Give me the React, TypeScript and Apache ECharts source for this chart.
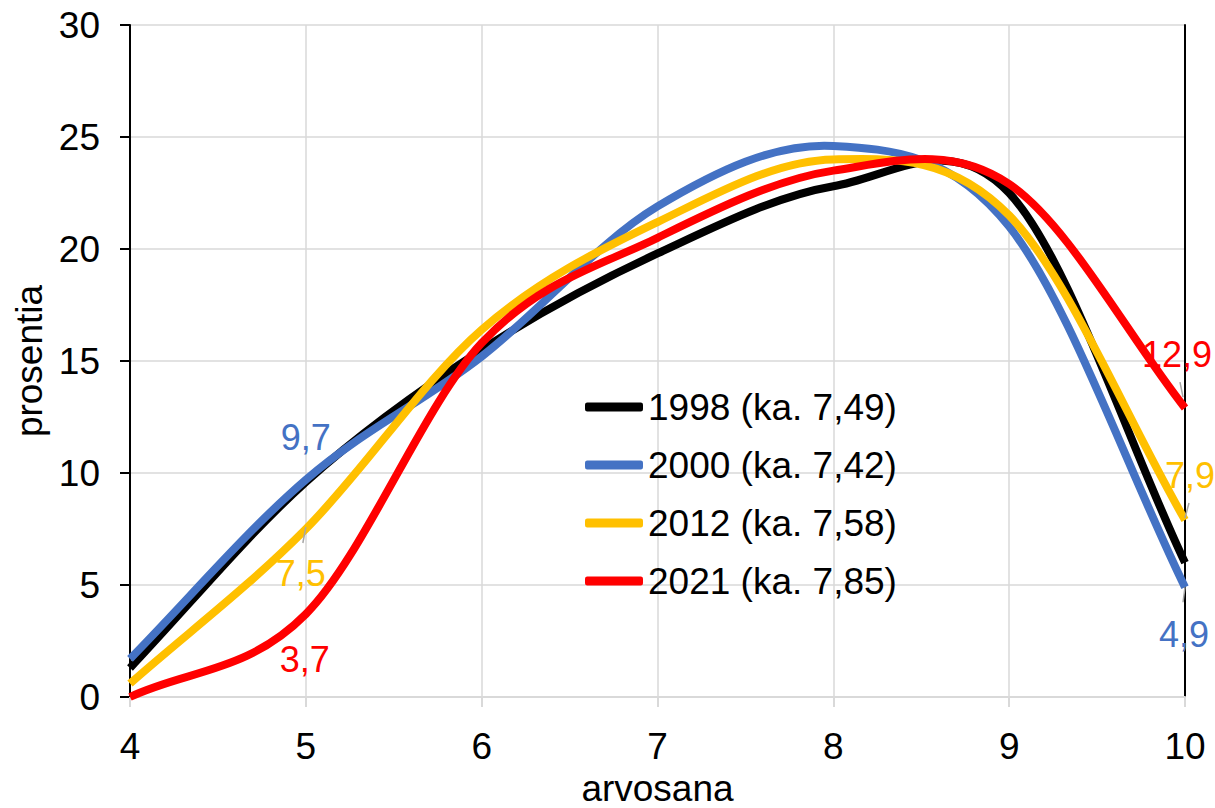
import React, { useEffect, useRef } from "react";
import * as echarts from "echarts";

const grades = [4, 5, 6, 7, 8, 9, 10];
const s1998 = [1.3, 9.6, 15.5, 19.8, 22.8, 22.5, 6.0];
const s2000 = [1.7, 9.7, 15.2, 21.9, 24.6, 21.0, 4.9];
const s2012 = [0.6, 7.5, 16.4, 21.2, 24.0, 21.5, 7.9];
const s2021 = [0.0, 3.7, 15.8, 20.5, 23.5, 22.9, 12.9];
const seriesNames = ["1998 (ka. 7,49)", "2000 (ka. 7,42)", "2012 (ka. 7,58)", "2021 (ka. 7,85)"];
const colors = ["#000000", "#4472C4", "#FFC000", "#FF0000"];

// labelled points: series index -> point index -> [label dx, label dy, leader x1, y1, x2, y2] (offsets in px)
const labelSpec: Record<number, Record<number, number[]>> = {
  1: { 1: [0, -42], 6: [-1, 47, 0, 0, -2, 15] },
  2: { 1: [-5, 44, 0, -2, -3, 14], 6: [5, -45, 4, -17, 0, -2] },
  3: { 1: [-1, 45], 6: [-8, -54, -5, -26, -2, -11] },
};

const FONT = '"Liberation Sans", Arial, sans-serif';
const TENSION = 1 / 6;

function smoothPath(pts: number[][]): string {
  const n = pts.length;
  const P = (i: number) => {
    if (i < 0) return [2 * pts[0][0] - pts[1][0], 2 * pts[0][1] - pts[1][1]];
    if (i >= n) return [2 * pts[n - 1][0] - pts[n - 2][0], 2 * pts[n - 1][1] - pts[n - 2][1]];
    return pts[i];
  };
  let d = `M${pts[0][0]},${pts[0][1]}`;
  for (let i = 0; i < n - 1; i++) {
    const p0 = P(i - 1), p1 = P(i), p2 = P(i + 1), p3 = P(i + 2);
    const c1 = [p1[0] + (p2[0] - p0[0]) * TENSION, p1[1] + (p2[1] - p0[1]) * TENSION];
    const c2 = [p2[0] - (p3[0] - p1[0]) * TENSION, p2[1] - (p3[1] - p1[1]) * TENSION];
    d += ` C${c1[0]},${c1[1]} ${c2[0]},${c2[1]} ${p2[0]},${p2[1]}`;
  }
  return d;
}

export default function App() {
  const ref = useRef<HTMLDivElement>(null);
  useEffect(() => {
    if (!ref.current) return;
    const chart = echarts.init(ref.current, null, { renderer: "svg" });
    const all = [s1998, s2000, s2012, s2021];
    const series = all.map((vals, si) => ({
      name: seriesNames[si],
      type: "custom",
      coordinateSystem: "cartesian2d",
      itemStyle: { color: colors[si] },
      z: 2 + si,
      data: vals.map((v, i) => [grades[i], v]),
      renderItem: (params: any, api: any) => {
        const children: any[] = [];
        const idx = params.dataIndex;
        if (idx === 0) {
          const pts = vals.map((v, i) => api.coord([grades[i], v]));
          children.push({
            type: "path",
            shape: { pathData: smoothPath(pts) },
            style: { fill: "none", stroke: colors[si], lineWidth: 8, lineJoin: "round" },
          });
        }
        const spec = labelSpec[si] && labelSpec[si][idx];
        if (spec) {
          const p = api.coord([grades[idx], vals[idx]]);
          if (spec.length > 2) {
            children.push({
              type: "line",
              shape: { x1: p[0] + spec[2], y1: p[1] + spec[3], x2: p[0] + spec[4], y2: p[1] + spec[5] },
              style: { stroke: "#a6a6a6", lineWidth: 1.5 },
            });
          }
          children.push({
            type: "text",
            x: p[0] + spec[0],
            y: p[1] + spec[1],
            style: {
              text: String(vals[idx]).replace(".", ","),
              fill: colors[si],
              font: `36px ${FONT}`,
              align: "center",
              verticalAlign: "middle",
            },
          });
        }
        if (!children.length) return null;
        return { type: "group", children };
      },
    }));
    chart.setOption({
      animation: false,
      textStyle: { fontFamily: FONT },
      grid: { left: 130, right: 30, top: 25, bottom: 111, containLabel: false, outerBoundsMode: "none" },
      legend: {
        orient: "vertical",
        left: 585,
        top: 386,
        padding: 0,
        icon: "roundRect",
        itemWidth: 58,
        itemHeight: 9,
        itemGap: 16,
        textStyle: { fontSize: 37, fontFamily: FONT, color: "#000", lineHeight: 42 },
        data: seriesNames,
      },
      xAxis: {
        type: "value",
        min: 4,
        max: 10,
        interval: 1,
        name: "arvosana",
        nameLocation: "middle",
        nameGap: 68,
        nameTextStyle: { fontSize: 37, fontFamily: FONT, color: "#000" },
        axisLine: { show: true, onZero: false, lineStyle: { color: "#d9d9d9", width: 2 } },
        axisTick: { show: true, length: 10, lineStyle: { color: "#d9d9d9", width: 2 } },
        axisLabel: { fontSize: 37, fontFamily: FONT, color: "#000", margin: 31 },
        splitLine: { show: true, lineStyle: { color: "#d9d9d9", width: 1.5 } },
      },
      yAxis: [
        {
          type: "value",
          min: 0,
          max: 30,
          interval: 5,
          name: "prosentia",
          nameLocation: "middle",
          nameGap: 82,
          nameTextStyle: { fontSize: 37, fontFamily: FONT, color: "#000" },
          axisLine: { show: true, lineStyle: { color: "#000", width: 2 } },
          axisTick: { show: true, length: 10, lineStyle: { color: "#000", width: 2 } },
          axisLabel: { fontSize: 37, fontFamily: FONT, color: "#000", margin: 30 },
          splitLine: { show: true, lineStyle: { color: "#d9d9d9", width: 1.5 } },
        },
        {
          type: "value",
          min: 0,
          max: 30,
          interval: 5,
          position: "right",
          axisLine: { show: true, lineStyle: { color: "#000", width: 2 } },
          axisTick: { show: false },
          axisLabel: { show: false },
          splitLine: { show: false },
        },
      ],
      series,
    });
    return () => chart.dispose();
  }, []);
  return (
    <div
      ref={ref}
      style={{ position: "fixed", left: 0, top: 0, width: 1215, height: 808, background: "#fff" }}
    />
  );
}
